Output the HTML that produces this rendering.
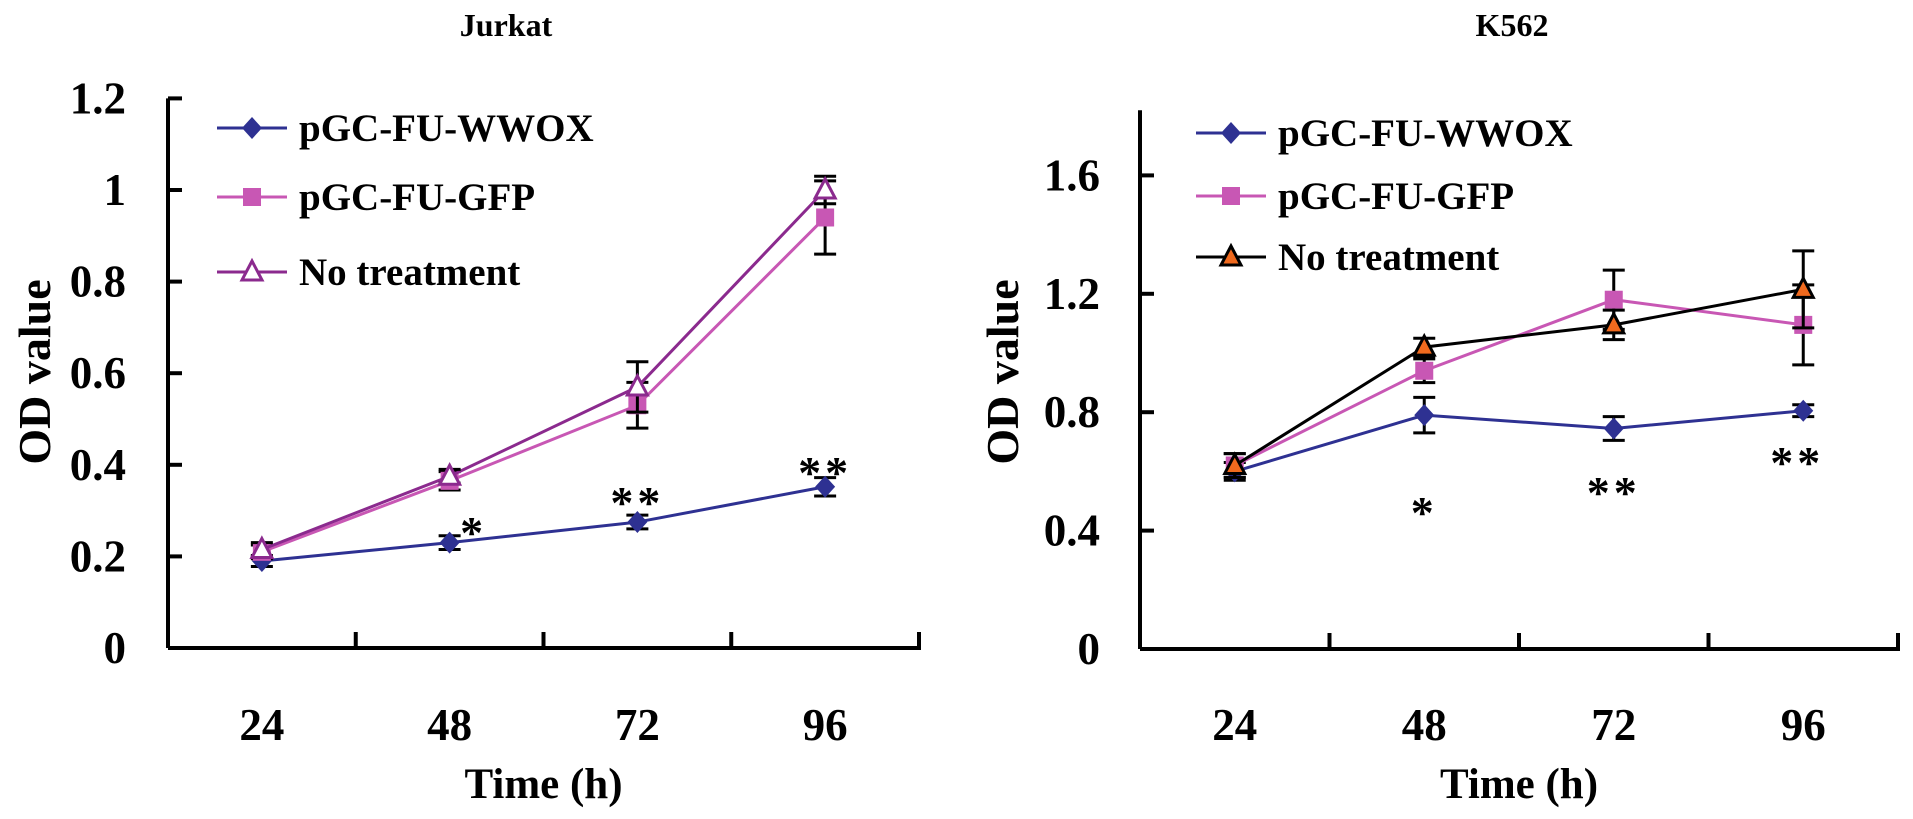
<!DOCTYPE html>
<html><head><meta charset="utf-8">
<style>
html,body{margin:0;padding:0;background:#fff;}
svg{display:block;font-family:"Liberation Serif",serif;font-weight:bold;}
</style></head>
<body>
<svg id="fig" width="1913" height="819" viewBox="0 0 1913 819" xmlns="http://www.w3.org/2000/svg"></svg>
<script>
const categories = ["24","48","72","96"];
const seriesNames = ["pGC-FU-WWOX","pGC-FU-GFP","No treatment"];
// Jurkat
const jurkatWWOX = [0.19,0.23,0.275,0.352];
const jurkatWWOXErr = [0.012,0.015,0.015,0.02];
const jurkatGFP = [0.21,0.365,0.53,0.94];
const jurkatGFPErr = [0.015,0.02,0.05,0.08];
const jurkatNT = [0.215,0.375,0.57,1.0];
const jurkatNTErr = [0.015,0.015,0.055,0.03];
const jurkatTicks = [0,0.2,0.4,0.6,0.8,1,1.2];
const jurkatTickLabels = ["0","0.2","0.4","0.6","0.8","1","1.2"];
const jurkatStars = ["","*","**","**"];
// K562
const k562WWOX = [0.6,0.79,0.745,0.805];
const k562WWOXErr = [0.03,0.06,0.04,0.02];
const k562GFP = [0.62,0.94,1.18,1.095];
const k562GFPErr = [0.04,0.04,0.1,0.135];
const k562NT = [0.62,1.02,1.095,1.215];
const k562NTErr = [0.04,0.03,0.05,0.13];
const k562Ticks = [0,0.4,0.8,1.2,1.6];
const k562TickLabels = ["0","0.4","0.8","1.2","1.6"];
const k562Stars = ["","*","**","**"];

const NS="http://www.w3.org/2000/svg";
const svg=document.getElementById('fig');
function el(tag,attrs,parent,txt){const e=document.createElementNS(NS,tag);for(const k in attrs)e.setAttribute(k,attrs[k]);if(txt!==undefined)e.textContent=txt;(parent||svg).appendChild(e);return e;}

function marker(g,type,x,y,color,fill){
  let m;
  if(type==='diamond'){m=el('polygon',{points:`${x},${y-11} ${x+10},${y} ${x},${y+11} ${x-10},${y}`,fill:color},g);}
  else if(type==='square'){m=el('rect',{x:x-9,y:y-9,width:18,height:18,fill:color},g);}
  else {m=el('polygon',{points:`${x},${y-11} ${x+10},${y+8} ${x-10},${y+8}`,fill:fill,stroke:color,'stroke-width':3},g);}
  return m;
}

function chart(o){
  const g=el('g',{});
  
  
  const x0=o.x0,x1=o.x1,y0=o.y0,yTop=o.yTop,k=o.k;
  const band=(x1-x0)/categories.length;
  const xs=i=>x0+band*(i+0.5);
  const ys=v=>y0-v*k;
  const t=el('text',{x:o.titleX,y:36,'font-size':32,'text-anchor':'middle'},g,o.title);
  
  
  const ya=el('line',{x1:x0,y1:ys(yTop),x2:x0,y2:y0,stroke:'#000','stroke-width':4},g);
  
  
  const xa=el('path',{d:`M${x0} ${y0} H${x1} V${y0-16}`,stroke:'#000','stroke-width':4,fill:'none'},g);
  
  
  for(let i=1;i<categories.length;i++){el('line',{x1:x0+band*i,y1:y0,x2:x0+band*i,y2:y0-16,stroke:'#000','stroke-width':4},g);}
  o.ticks.forEach((v,i)=>{
    el('line',{x1:x0,y1:ys(v),x2:x0+14,y2:ys(v),stroke:'#000','stroke-width':4},g);
    const tl=el('text',{x:o.labelRight,y:ys(v)+15,'font-size':45,'text-anchor':'end'},g,o.tickLabels[i]);
    
    
  });
  categories.forEach((c,i)=>{
    const cl=el('text',{x:xs(i),y:740,'font-size':45,'text-anchor':'middle'},g,c);
    
    
  });
  const xt=el('text',{x:(x0+x1)/2,y:798,'font-size':43,'text-anchor':'middle'},g,'Time (h)');
  
  
  const yt=el('text',{x:0,y:0,'font-size':46,'text-anchor':'middle',transform:`translate(${o.yTitleX},372) rotate(-90)`},g,'OD value');
  
  
  o.series.forEach((s,si)=>{
    const sg=el('g',{},g);
    
    
    el('polyline',{points:s.vals.map((v,i)=>xs(i)+','+ys(v)).join(' '),fill:'none',stroke:s.color,'stroke-width':3},sg);
    s.vals.forEach((v,i)=>{
      const e=s.err[i];
      el('path',{d:`M${xs(i)} ${ys(v+e)} V${ys(v-e)} M${xs(i)-11} ${ys(v+e)} H${xs(i)+11} M${xs(i)-11} ${ys(v-e)} H${xs(i)+11}`,stroke:'#000','stroke-width':3,fill:'none'},sg);
      const m=marker(sg,s.marker,xs(i),ys(v),s.color,s.fill);
      
      
    });
  });
  o.stars.forEach((st,i)=>{
    if(!st)return;
    const sx=el('text',{x:xs(i)+o.starDx[i],y:o.starY[i],'font-size':46,'text-anchor':'middle','letter-spacing':'4'},g,st);
    
    
  });
  o.series.forEach((s,si)=>{
    const ly=o.legY[si];
    const lg=el('g',{},g);
    
    
    el('line',{x1:o.legX,y1:ly,x2:o.legX+70,y2:ly,stroke:s.color,'stroke-width':3},lg);
    marker(lg,s.marker,o.legX+35,ly,s.color,s.fill);
    el('text',{x:o.legX+82,y:ly+13,'font-size':39},lg,seriesNames[si]);
  });
}

chart({name:'jurkat-chart',title:'Jurkat',titleX:506,x0:168,x1:919,y0:648,yTop:1.2,k:458,
  ticks:jurkatTicks,tickLabels:jurkatTickLabels,labelRight:126,yTitleX:50,
  stars:jurkatStars,starDx:[0,24,0,0],starY:[0,548,518,488],
  legX:217,legY:[128,197,272],
  series:[
    {key:'wwox',vals:jurkatWWOX,err:jurkatWWOXErr,color:'#2e3192',marker:'diamond'},
    {key:'gfp',vals:jurkatGFP,err:jurkatGFPErr,color:'#c857b4',marker:'square'},
    {key:'nt',vals:jurkatNT,err:jurkatNTErr,color:'#8b2a8e',marker:'triangle',fill:'#fff'}
  ]});
chart({name:'k562-chart',title:'K562',titleX:1512,x0:1140,x1:1898,y0:649,yTop:1.82,k:296,
  ticks:k562Ticks,tickLabels:k562TickLabels,labelRight:1100,yTitleX:1018,
  stars:k562Stars,starDx:[0,0,0,-6],starY:[0,528,508,478],
  legX:1196,legY:[133,196,257],
  series:[
    {key:'wwox',vals:k562WWOX,err:k562WWOXErr,color:'#2e3192',marker:'diamond'},
    {key:'gfp',vals:k562GFP,err:k562GFPErr,color:'#c857b4',marker:'square'},
    {key:'nt',vals:k562NT,err:k562NTErr,color:'#000',marker:'triangle',fill:'#f06a1e'}
  ]});
</script>
</body></html>
